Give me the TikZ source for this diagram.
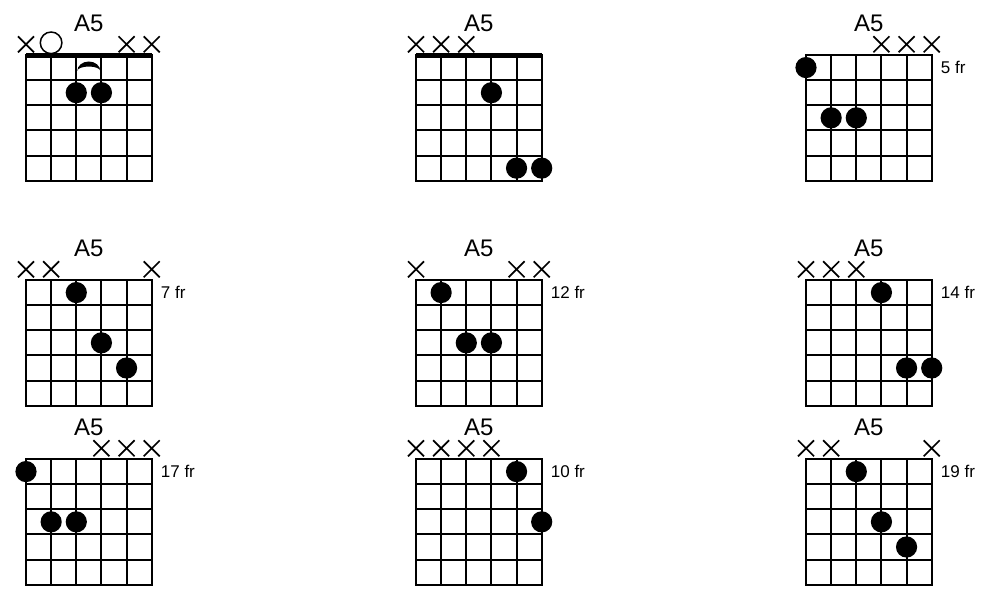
\documentclass[tikz,border=0pt]{standalone}
\usepackage{fontspec}
\setmainfont{Liberation Sans}
\usetikzlibrary{calc}

\begin{document}
\begin{tikzpicture}[x=1pt,y=-1pt,
  gridline/.style={line width=1.9pt,line cap=rect},
  mute/.style={line width=1.7pt},
  chordname/.style={font=\fontsize{24}{26}\selectfont,inner sep=0pt},
  fretno/.style={font=\fontsize{17}{19}\selectfont,inner sep=0pt,anchor=west}]
  % 1 unit = 1 px of the 987x599 sheet, y grows downwards
  \def\Sw{25.14}  % gap between strings (and frets)
  \def\Gw{125.7}  % grid width = grid height
  \useasboundingbox (0,0) rectangle (987,599);

  % the nine boxes: left x / top y / number
  \foreach \gx/\gy/\k in {26/55/1, 416/55/2, 806/55/3,
                          26/280/4, 416/280/5, 806/280/6,
                          26/459/7, 416/459/8, 806/459/9}{
    \foreach \i in {0,...,5}{
      \draw[gridline]({\gx+\i*\Sw},\gy)--({\gx+\i*\Sw},{\gy+\Gw});
      \draw[gridline](\gx,{\gy+\i*\Sw})--({\gx+\Gw},{\gy+\i*\Sw});}
    \node[chordname] (name\k) at ({\gx+\Gw/2},{\gy-32}){A5};
  }

  % nut on the open position boxes
  \foreach \gx in {26,416}{
    \draw[line width=4.5pt](\gx,55.5)--({\gx+\Gw},55.5);}

  % muted strings: box x / box y / string
  \foreach \gx/\gy/\s in {26/55/1, 26/55/5, 26/55/6,
                          416/55/1, 416/55/2, 416/55/3,
                          806/55/4, 806/55/5, 806/55/6,
                          26/280/1, 26/280/2, 26/280/6,
                          416/280/1, 416/280/5, 416/280/6,
                          806/280/1, 806/280/2, 806/280/3,
                          26/459/4, 26/459/5, 26/459/6,
                          416/459/1, 416/459/2, 416/459/3, 416/459/4,
                          806/459/1, 806/459/2, 806/459/6}{
    \draw[mute]({\gx+(\s-1)*\Sw-8},{\gy-18.7})--++(16,16)
               ({\gx+(\s-1)*\Sw+8},{\gy-18.7})--++(-16,16);}

  % open string
  \draw[line width=1.5pt](51.1,42.8) circle (10.8pt);

  % fingers: box x / box y / string / fret
  \foreach \gx/\gy/\s/\f in {26/55/3/2, 26/55/4/2,
                             416/55/4/2, 416/55/5/5, 416/55/6/5,
                             806/55/1/1, 806/55/2/3, 806/55/3/3,
                             26/280/3/1, 26/280/4/3, 26/280/5/4,
                             416/280/2/1, 416/280/3/3, 416/280/4/3,
                             806/280/4/1, 806/280/5/4, 806/280/6/4,
                             26/459/1/1, 26/459/2/3, 26/459/3/3,
                             416/459/5/1, 416/459/6/3,
                             806/459/3/1, 806/459/4/3, 806/459/5/4}{
    \fill({\gx+(\s-1)*\Sw},{\gy+(\f-0.5)*\Sw}) circle (10.6pt);}

  % slur over the two fingers of the first box
  \fill(77.3,71) arc[start angle=180,end angle=360,x radius=11.5,y radius=9.5]
    arc[start angle=0,end angle=-180,x radius=11.5,y radius=4.5]--cycle;

  % fret numbers
  \foreach \gx/\gy/\k/\fr in {806/55/3/5, 26/280/4/7, 416/280/5/12,
                              806/280/6/14, 26/459/7/17, 416/459/8/10,
                              806/459/9/19}{
    \node[fretno] (fret\k) at ({\gx+\Gw+9},{\gy+12.6}){\fr\ fr};}
\end{tikzpicture}
\end{document}
